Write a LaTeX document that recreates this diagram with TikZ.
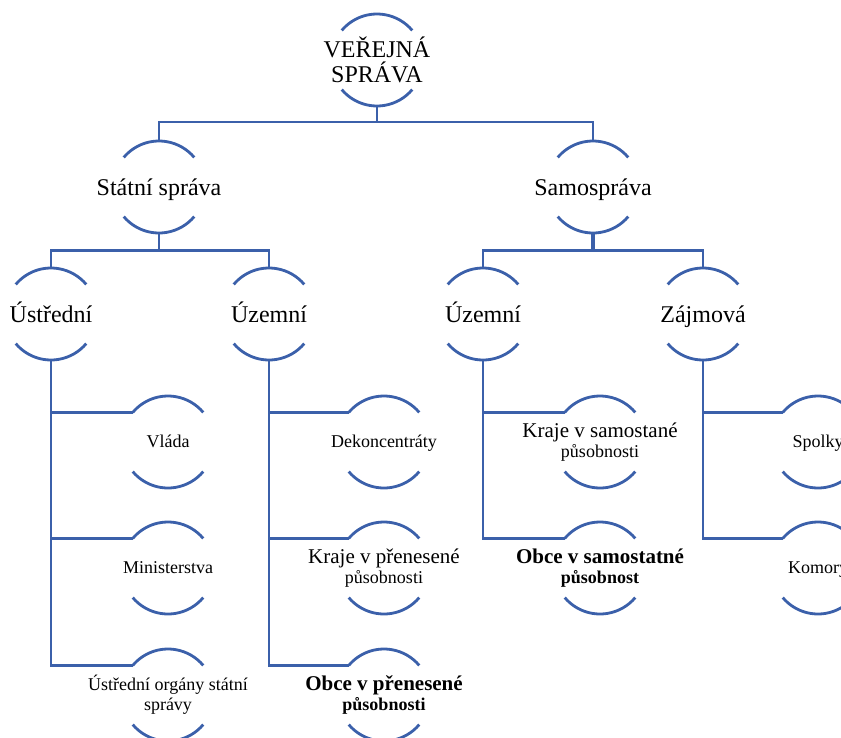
\documentclass[tikz,border=0pt]{standalone}
\usepackage{fontspec}
\setmainfont{Liberation Serif}
\usepackage{tikz}
\usetikzlibrary{positioning}

\definecolor{lineblue}{RGB}{59,96,170}

\newcommand{\nodearcs}[1]{%
  \draw[link] ([shift={(140:46pt)}]#1.center) arc[start angle=140, end angle=40, radius=46pt];
  \draw[link] ([shift={(220:46pt)}]#1.center) arc[start angle=220, end angle=320, radius=46pt];}

\begin{document}
\begin{tikzpicture}[x=1pt, y=1pt,
    link/.style={draw=lineblue, line width=2.8pt},
    unit/.style={minimum height=92pt, inner sep=0pt, align=center},
    big/.style={unit, font=\fontsize{24}{25}\selectfont},
    small/.style={unit, font=\fontsize{18}{20}\selectfont},
    bigline/.style={big, text height=21pt, text depth=5pt},
    smallline/.style={small, text height=15pt, text depth=4pt}]

\useasboundingbox (0,0) rectangle (841,-737);
\clip (0,0) rectangle (841,-737);

\node[big] at (377,-60) (VS) {VEŘEJNÁ\\SPRÁVA};
\node[bigline] at (159,-187) (SS) {Státní správa};
\node[bigline] at (593,-187) (SAM) {Samospráva};
\node[bigline] at (51,-314) (UST) {Ústřední};
\node[bigline] at (269,-314) (UZ1) {Územní};
\node[bigline] at (483,-314) (UZ2) {Územní};
\node[bigline] at (703,-314) (ZAJ) {Zájmová};

\node[smallline] at (168,-442) (VL) {Vláda};
\node[smallline] at (168,-568) (MIN) {Ministerstva};
\node[small] at (168,-695) (UOSS) {Ústřední orgány státní\\správy};
\node[smallline] at (384,-442) (DEK) {Dekoncentráty};
\node[small] at (384,-568) (KPP) {{\fontsize{21}{20}\selectfont Kraje v přenesené}\\působnosti};
\node[small] at (384,-695) (OPP) {{\fontsize{21}{20}\selectfont\bfseries Obce v přenesené}\\\textbf{působnosti}};
\node[small] at (600,-442) (KSP) {{\fontsize{21}{20}\selectfont Kraje v samostané}\\působnosti};
\node[small] at (600,-568) (OSP) {{\fontsize{21}{20}\selectfont\bfseries Obce v samostatné}\\\textbf{působnost}};
\node[smallline] at (818,-442) (SPO) {Spolky};
\node[smallline] at (818,-568) (KOM) {Komory};

\nodearcs{VS} \nodearcs{SS} \nodearcs{SAM}
\nodearcs{UST} \nodearcs{UZ1} \nodearcs{UZ2} \nodearcs{ZAJ}
\nodearcs{VL} \nodearcs{MIN} \nodearcs{UOSS}
\nodearcs{DEK} \nodearcs{KPP} \nodearcs{OPP}
\nodearcs{KSP} \nodearcs{OSP} \nodearcs{SPO} \nodearcs{KOM}

\coordinate (B1) at (377,-122);
\draw[link] (VS.south) -- (B1);
\draw[link] (B1) -| (SS.north);
\draw[link] (B1) -| (SAM.north);

\draw[link] (SS.south) -- ++(0,-17) -| (UST.north);
\draw[link] (SS.south) -- ++(0,-17) -| (UZ1.north);
\draw[link, line width=4.5pt] (SAM.south) -- ++(0,-17);
\draw[link] (SAM.south) ++(0,-17) -| (UZ2.north);
\draw[link] (SAM.south) ++(0,-17) -| (ZAJ.north);

\draw[link] ([shift={(140:46pt)}]VL.center) -| (UST.south);
\draw[link] ([shift={(140:46pt)}]MIN.center) -| (UST.south);
\draw[link] ([shift={(140:46pt)}]UOSS.center) -| (UST.south);
\draw[link] ([shift={(140:46pt)}]DEK.center) -| (UZ1.south);
\draw[link] ([shift={(140:46pt)}]KPP.center) -| (UZ1.south);
\draw[link] ([shift={(140:46pt)}]OPP.center) -| (UZ1.south);
\draw[link] ([shift={(140:46pt)}]KSP.center) -| (UZ2.south);
\draw[link] ([shift={(140:46pt)}]OSP.center) -| (UZ2.south);
\draw[link] ([shift={(140:46pt)}]SPO.center) -| (ZAJ.south);
\draw[link] ([shift={(140:46pt)}]KOM.center) -| (ZAJ.south);

\end{tikzpicture}
\end{document}
